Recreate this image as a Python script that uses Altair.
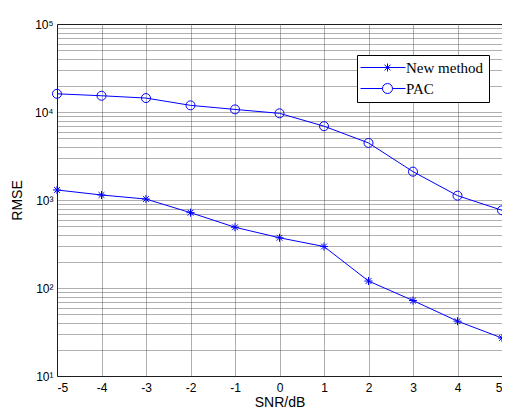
import altair as alt
import pandas as pd

snr = [-5, -4, -3, -2, -1, 0, 1, 2, 3, 4, 5]
new_method = [1300, 1140, 1025, 718, 490, 372, 296, 120, 72, 42, 27]
pac = [16100, 15300, 14400, 11900, 10700, 9660, 6900, 4450, 2100, 1120, 764]
series_names = ["New method", "PAC"]
y_decades = [10, 100, 1000, 10000, 100000]
y_labels = ["10¹", "10²", "10³", "10⁴", "10⁵"]

rows = []
for s, vals in zip(series_names, [new_method, pac]):
    for x, v in zip(snr, vals):
        rows.append({"snr": x, "rmse": v, "series": s})
df = pd.DataFrame(rows)

grid_vals = [m * 10 ** k for k in range(1, 5) for m in range(1, 10)] + [100000]
label_expr = " : ".join(f"datum.value == {d} ? '{l}'" for d, l in zip(y_decades, y_labels)) + " : ''"

BLUE = "#0000FF"
FONT = "Liberation Sans"

xenc = alt.X("snr:Q", scale=alt.Scale(domain=[-5, 5], nice=False, zero=False),
             axis=alt.Axis(values=snr, labelExpr="'' + datum.value", title="SNR/dB", labelFontSize=12,
                           labelPadding=6, titleFontSize=14, titlePadding=2,
                           labelFont=FONT, titleFont=FONT, titleFontWeight="normal",
                           ticks=False, domain=False, labelColor="black", titleColor="black"))
yenc = alt.Y("rmse:Q", scale=alt.Scale(type="log", domain=[10, 100000], nice=False),
             axis=alt.Axis(values=grid_vals, labelExpr=label_expr, title="RMSE",
                           labelFontSize=12, labelPadding=4, titleFontSize=14, titlePadding=10,
                           labelFont=FONT, titleFont=FONT, titleFontWeight="normal",
                           ticks=False, domain=False, labelColor="black", titleColor="black",
                           labelOverlap=False, labelBound=False, labelFlush=False))

star_path = "M-0.9,0L0.9,0M0,-0.9L0,0.9M-0.64,-0.64L0.64,0.64M-0.64,0.64L0.64,-0.64"
leg_star = "M-1.8,0L7.2,0M3.6,-0.8L3.6,0.8M3.0,-0.55L4.2,0.55M3.0,0.55L4.2,-0.55"
leg_circle = "M-1.8,0L2.6,0M4.6,0L7.2,0M4.6,0A1,1,0,1,1,2.6,0A1,1,0,1,1,4.6,0"

base = alt.Chart(df)

lines = base.mark_line(color=BLUE, strokeWidth=1).encode(
    x=xenc, y=yenc, detail="series:N")

points = base.mark_point(color=BLUE, filled=False, strokeWidth=1, size=81, opacity=1).encode(
    x=xenc, y=yenc,
    shape=alt.Shape("series:N", scale=alt.Scale(domain=series_names, range=[star_path, "circle"]),
                    legend=None))

legend_layer = base.mark_point(color=BLUE, filled=False, strokeWidth=1, size=100, opacity=0).encode(
    x=xenc, y=yenc,
    shape=alt.Shape("series:N", scale=alt.Scale(domain=series_names, range=[leg_star, leg_circle]),
                    legend=alt.Legend(title=None, orient="none", legendX=300, legendY=31,
                                      fillColor="white", strokeColor="black", padding=5,
                                      labelFont="Liberation Serif", labelFontSize=15,
                                      labelColor="black", labelOffset=29, rowPadding=5,
                                      symbolStrokeWidth=1, symbolStrokeColor=BLUE,
                                      symbolFillColor="transparent", symbolSize=100,
                                      symbolOpacity=1)))

chart = alt.layer(lines, points, legend_layer).resolve_scale(shape="independent").properties(
    width=445, height=352,
    autosize=alt.AutoSizeParams(type="none"),
    padding={"left": 49, "top": 16, "right": 0, "bottom": 33},
    background="white",
).configure_view(stroke="black", strokeWidth=1).configure_axis(
    gridColor="#444444", gridDash=[1, 1], gridWidth=1, gridOpacity=0.85)

chart.save("out.html", embed_options={"renderer": "svg", "actions": False})
